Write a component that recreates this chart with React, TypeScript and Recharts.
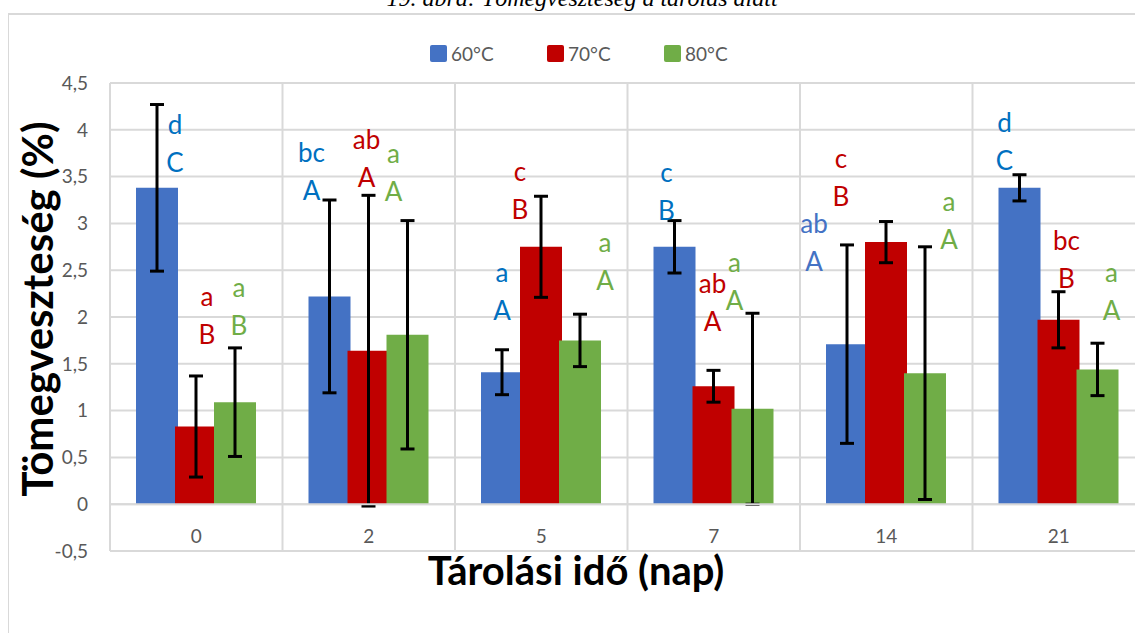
import React from "react";
import {
  BarChart, Bar, XAxis, YAxis, CartesianGrid, ErrorBar, LabelList, Legend, ReferenceLine,
} from "recharts";

// storage time (days)
const days = ["0", "2", "5", "7", "14", "21"];

// mass loss (%) per drying temperature
const loss60 = [3.38, 2.22, 1.41, 2.75, 1.71, 3.38];
const loss70 = [0.83, 1.64, 2.75, 1.26, 2.8, 1.97];
const loss80 = [1.09, 1.81, 1.75, 1.02, 1.4, 1.44];

// standard deviations
const sd60 = [0.89, 1.03, 0.24, 0.28, 1.06, 0.14];
const sd70 = [0.54, 1.66, 0.54, 0.17, 0.22, 0.3];
const sd80 = [0.58, 1.22, 0.28, 1.02, 1.35, 0.28];

// significance letters: lowercase = between days, uppercase = between temperatures
const groups60 = ["d", "bc", "a", "c", "ab", "d"];
const classes60 = ["C", "A", "A", "B", "A", "C"];
const groups70 = ["a", "ab", "c", "ab", "c", "bc"];
const classes70 = ["B", "A", "B", "A", "B", "B"];
const groups80 = ["a", "a", "a", "a", "a", "a"];
const classes80 = ["B", "A", "A", "A", "A", "A"];

const yTicks = [-0.5, 0, 0.5, 1, 1.5, 2, 2.5, 3, 3.5, 4, 4.5];

// where each letter pair sits: [x shift from bar centre in px, baseline in axis units]
const spots60 = [[18, 3.96], [-18, 3.66], [0, 2.37], [-8, 3.44], [-33, 2.9], [-15, 3.98]];
const spots70 = [[11, 2.12], [-2, 3.8], [-21, 3.45], [-1, 2.26], [-45, 3.59], [8, 2.72]];
const spots80 = [[4, 2.21], [-14, 3.64], [25, 2.69], [-18, 2.48], [24, 3.13], [14, 2.37]];

const chartData = days.map((day, i) => ({
  day,
  t60: loss60[i], e60: sd60[i],
  t70: loss70[i], e70: sd70[i],
  t80: loss80[i], e80: sd80[i],
}));

const FONT = "Lato, 'Open Sans', sans-serif";
const GRID = "#D9D9D9";
const TEXT = "#595959";

const series = [
  { key: "t60", err: "e60", name: "60°C", fill: "#4472C4", ink: "#0070C0", inkAt: { 4: "#4472C4" } as Record<number, string>, values: loss60, lower: groups60, upper: classes60, spots: spots60 },
  { key: "t70", err: "e70", name: "70°C", fill: "#C00000", ink: "#C00000", inkAt: {} as Record<number, string>, values: loss70, lower: groups70, upper: classes70, spots: spots70 },
  { key: "t80", err: "e80", name: "80°C", fill: "#70AD47", ink: "#70AD47", inkAt: {} as Record<number, string>, values: loss80, lower: groups80, upper: classes80, spots: spots80 },
];

const fmt = (v: number) => String(v).replace(".", ",");

// letter pair above a bar, placed with the bar's own value scale
const letterLabel = (s: (typeof series)[number]) => (props: any) => {
  const i = props.index;
  if (i == null) return null;
  const vb = props.viewBox && props.viewBox.width != null ? props.viewBox : props;
  const v = s.values[i];
  const zero = vb.y + vb.height;
  const k = vb.height / v;
  const [dx, at] = s.spots[i];
  const cx = vb.x + vb.width / 2 + dx;
  const base = zero - at * k;
  const fill = s.inkAt[i] ?? s.ink;
  return (
    <g>
      <text x={cx} y={base} textAnchor="middle" fontFamily={FONT} fontSize={26} fill={fill}>{s.lower[i]}</text>
      <text x={cx} y={base + 38} textAnchor="middle" fontFamily={FONT} fontSize={26} fill={fill}>{s.upper[i]}</text>
    </g>
  );
};

const DayTick = ({ x, y, payload }: any) => (
  <text x={x} y={y - 8} textAnchor="middle" fontFamily={FONT} fontSize={19} fill={TEXT}>
    {payload.value}
  </text>
);

const LegendRow = () => (
  <div style={{ display: "flex", fontFamily: FONT, fontSize: 19, color: TEXT }}>
    {series.map((s) => (
      <div key={s.key} style={{ display: "flex", alignItems: "center", width: 117 }}>
        <span style={{ width: 17, height: 17, background: s.fill, borderRadius: 2, marginRight: 4 }} />
        <span>{s.name}</span>
      </div>
    ))}
  </div>
);

const App: React.FC = () => {
  return (
    <div style={{ position: "fixed", left: 0, top: 0, width: 1135, height: 633, overflow: "hidden", background: "#fff" }}>
      <svg width={1135} height={20} style={{ position: "absolute", left: 0, top: 0 }}>
        <text x={582} y={6} textAnchor="middle" fontFamily="'Liberation Serif', serif" fontStyle="italic" fontSize={24} fill="#000">
          19. ábra: Tömegveszteség a tárolás alatt
        </text>
      </svg>
      <div style={{ position: "absolute", left: 8, top: 13, width: 1300, height: 700, borderLeft: `1px solid ${GRID}`, borderTop: `2px solid ${GRID}` }} />
      <div style={{ position: "absolute", left: 0, top: 0 }}>
        <BarChart
          width={1160}
          height={633}
          data={chartData}
          margin={{ top: 83, right: 15, left: 10, bottom: 42 }}
          barSize={42}
          barGap={-3}
        >
          <CartesianGrid
            stroke={GRID}
            strokeWidth={2}
            verticalCoordinatesGenerator={({ offset }: any) =>
              days.map((_, i) => offset.left + (i * offset.width) / days.length).concat(offset.left + offset.width)
            }
          />
          <XAxis
            dataKey="day"
            height={40}
            axisLine={false}
            tickLine={false}
            tickSize={0}
            tickMargin={0}
            interval={0}
            tick={<DayTick />}
            label={{
              content: ({ viewBox }: any) => (
                <text x={viewBox.x + 466} y={viewBox.y + 34} textAnchor="middle" fontFamily={FONT} fontWeight={700} fontSize={40} fill="#000">
                  Tárolási idő (nap)
                </text>
              ),
            }}
          />
          <YAxis
            type="number"
            domain={[-0.5, 4.5]}
            ticks={yTicks}
            interval={0}
            width={100}
            axisLine={false}
            tickLine={false}
            tickSize={6}
            tickMargin={16}
            tickFormatter={fmt}
            tick={{ fill: TEXT, fontSize: 19, fontFamily: FONT }}
            label={{
              content: ({ viewBox }: any) => {
                const cx = viewBox.x + 43;
                const cy = viewBox.y + viewBox.height / 2 - 8;
                return (
                  <text x={cx} y={cy} transform={`rotate(-90, ${cx}, ${cy})`} textAnchor="middle" fontFamily={FONT} fontWeight={700} fontSize={42} fill="#000">
                    Tömegveszteség (%)
                  </text>
                );
              },
            }}
          />
          <Legend
            verticalAlign="middle"
            align="center"
            wrapperStyle={{ top: 42, left: 430, width: 360, height: 22 }}
            content={() => <LegendRow />}
          />
          {series.map((s) => (
            <Bar key={s.key} dataKey={s.key} name={s.name} fill={s.fill} isAnimationActive={false}>
              <ErrorBar dataKey={s.err} direction="y" width={7} strokeWidth={3} stroke="#000" />
              <LabelList dataKey={s.key} content={letterLabel(s)} />
            </Bar>
          ))}
          <ReferenceLine y={0} stroke={GRID} strokeWidth={2} />
        </BarChart>
      </div>
    </div>
  );
};

export default App;
